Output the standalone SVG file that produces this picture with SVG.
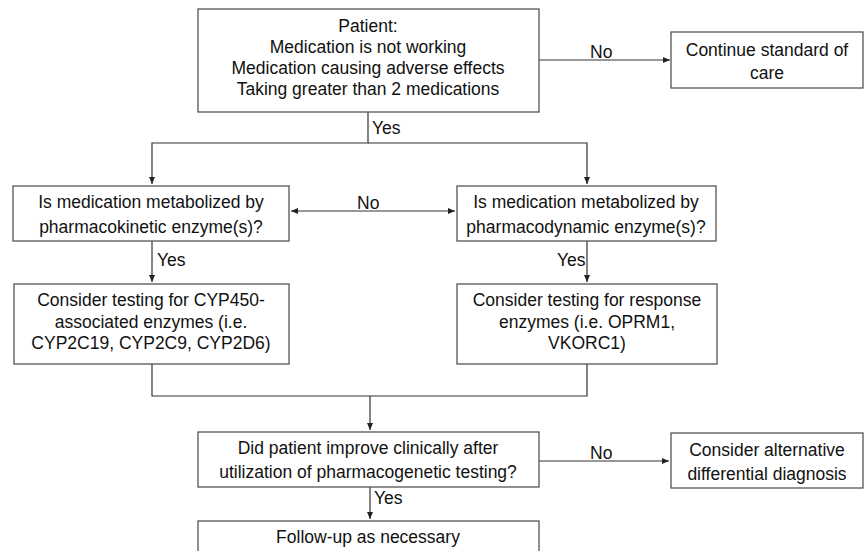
<svg xmlns="http://www.w3.org/2000/svg" width="864" height="551" viewBox="0 0 864 551">
<defs>
<marker id="ah" markerWidth="8" markerHeight="8" refX="7" refY="4" orient="auto-start-reverse" markerUnits="userSpaceOnUse">
<path d="M0,1 L7,4 L0,7 Z" fill="#222"/>
</marker>
<style>
.box{fill:#fff;stroke:#555;stroke-width:1.3}
.t{font-family:"Liberation Sans",Arial,sans-serif;font-size:17.5px;fill:#111;text-anchor:middle;dominant-baseline:central}
.lbl{font-family:"Liberation Sans",Arial,sans-serif;font-size:17.5px;fill:#111;dominant-baseline:central}
.c{fill:none;stroke:#333;stroke-width:1.2}
</style>
</defs>
<rect width="864" height="551" fill="#fff"/>
<g id="connectors">
<line class="c" x1="539" y1="60" x2="670" y2="60" marker-end="url(#ah)"/>
<polyline class="c" points="368,112 368,143 152,143 152,184" marker-end="url(#ah)"/>
<polyline class="c" points="368,143 587,143 587,184" marker-end="url(#ah)"/>
<line class="c" x1="291" y1="211" x2="455" y2="211" marker-start="url(#ah)" marker-end="url(#ah)"/>
<line class="c" x1="152" y1="241" x2="152" y2="282" marker-end="url(#ah)"/>
<line class="c" x1="587" y1="241" x2="587" y2="282" marker-end="url(#ah)"/>
<polyline class="c" points="152,364 152,396 587,396 587,364"/>
<line class="c" x1="370" y1="396" x2="370" y2="430" marker-end="url(#ah)"/>
<line class="c" x1="539" y1="461" x2="669" y2="461" marker-end="url(#ah)"/>
<line class="c" x1="370" y1="487" x2="370" y2="519" marker-end="url(#ah)"/>
<text class="lbl" x="590" y="52">No</text>
<text class="lbl" x="372" y="128">Yes</text>
<text class="lbl" x="357" y="203">No</text>
<text class="lbl" x="157" y="260">Yes</text>
<text class="lbl" x="557" y="260">Yes</text>
<text class="lbl" x="590" y="453">No</text>
<text class="lbl" x="374" y="498">Yes</text>
</g>
<g id="patient">
<rect class="box" x="198" y="9" width="341" height="103"/>
<text class="t" x="368" y="26">Patient:</text>
<text class="t" x="368" y="47">Medication is not working</text>
<text class="t" x="368" y="68">Medication causing adverse effects</text>
<text class="t" x="368" y="89">Taking greater than 2 medications</text>
</g>
<g id="continue">
<rect class="box" x="671" y="32" width="192" height="56"/>
<text class="t" x="767" y="50">Continue standard of</text>
<text class="t" x="767" y="73">care</text>
</g>
<g id="pk">
<rect class="box" x="13" y="186" width="276" height="55"/>
<text class="t" x="151" y="202">Is medication metabolized by</text>
<text class="t" x="151" y="227">pharmacokinetic enzyme(s)?</text>
</g>
<g id="pd">
<rect class="box" x="457" y="186" width="259" height="55"/>
<text class="t" x="586" y="202">Is medication metabolized by</text>
<text class="t" x="586" y="227">pharmacodynamic enzyme(s)?</text>
</g>
<g id="cyp">
<rect class="box" x="14" y="284" width="275" height="80"/>
<text class="t" x="151" y="300">Consider testing for CYP450-</text>
<text class="t" x="151" y="322">associated enzymes (i.e.</text>
<text class="t" x="151" y="343">CYP2C19, CYP2C9, CYP2D6)</text>
</g>
<g id="response">
<rect class="box" x="457" y="284" width="260" height="80"/>
<text class="t" x="587" y="300">Consider testing for response</text>
<text class="t" x="587" y="322">enzymes (i.e. OPRM1,</text>
<text class="t" x="587" y="343">VKORC1)</text>
</g>
<g id="improve">
<rect class="box" x="198" y="432" width="341" height="55"/>
<text class="t" x="368" y="448">Did patient improve clinically after</text>
<text class="t" x="368" y="472">utilization of pharmacogenetic testing?</text>
</g>
<g id="alternative">
<rect class="box" x="671" y="433" width="192" height="55"/>
<text class="t" x="767" y="450">Consider alternative</text>
<text class="t" x="767" y="474">differential diagnosis</text>
</g>
<g id="followup">
<rect class="box" x="198" y="521" width="341" height="40"/>
<text class="t" x="368" y="537">Follow-up as necessary</text>
</g>
</svg>
